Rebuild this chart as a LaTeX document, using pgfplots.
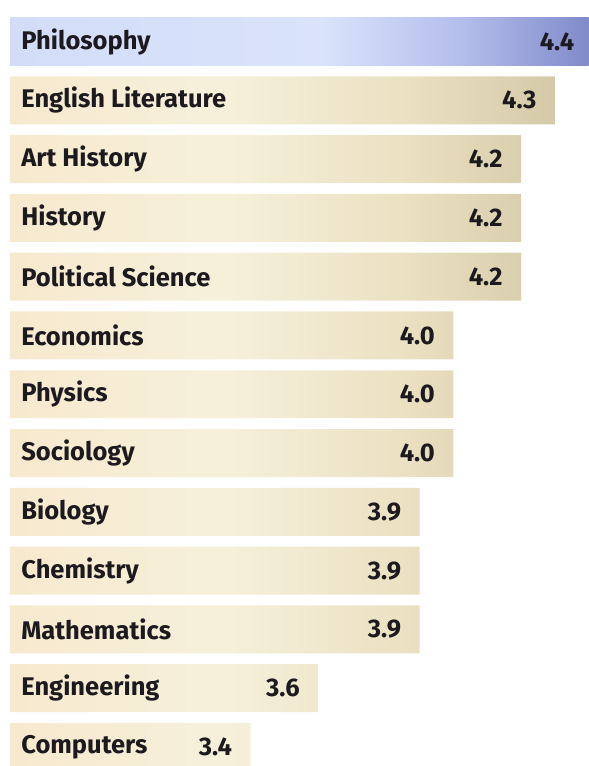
\documentclass[border=0pt]{standalone}
\usepackage{pgfplots}
\pgfplotsset{compat=1.18}
\usepackage{pgfplotstable}
\usepackage{fontspec}
\setmainfont{Fira Sans}
\definecolor{tanL}{RGB}{247,233,206}
\definecolor{tanM}{RGB}{246,240,219}
\definecolor{tanQ}{RGB}{234,224,193}
\definecolor{tanR}{RGB}{212,202,168}
\definecolor{bluL}{RGB}{212,221,248}
\definecolor{bluM}{RGB}{218,227,251}
\definecolor{bluQ}{RGB}{180,190,235}
\definecolor{bluR}{RGB}{128,138,202}
\definecolor{txt}{RGB}{28,26,30}
\pgfdeclarehorizontalshading{tanbar}{100bp}{color(0bp)=(tanL); color(25bp)=(tanL); color(45bp)=(tanM); color(62bp)=(tanQ); color(75bp)=(tanR); color(100bp)=(tanR)}
\pgfdeclarehorizontalshading{blubar}{100bp}{color(0bp)=(bluL); color(25bp)=(bluL); color(52bp)=(bluM); color(64bp)=(bluQ); color(75bp)=(bluR); color(100bp)=(bluR)}
\begin{document}
\pgfplotstableread[col sep=comma]{
name,v,y
Philosophy,4.4,12
}\top
\pgfplotstableread[col sep=comma]{
name,v,y
English Literature,4.3,11
Art History,4.2,10
History,4.2,9
Political Science,4.2,8
Economics,4.0,7
Physics,4.0,6
Sociology,4.0,5
Biology,3.9,4
Chemistry,3.9,3
Mathematics,3.9,2
Engineering,3.6,1
Computers,3.4,0
}\rest
\begin{tikzpicture}
\begin{axis}[
  width=589pt, height=766pt, scale only axis,
  xmin=-0.029, xmax=1.713, ymin=-0.323, ymax=12.706,
  axis line style={draw=none}, ticks=none,
  bar width=0.816, bar shift=0pt,
  /pgf/number format/assume math mode=true,
  every node near coord/.append style={font=\fontsize{25.5}{28}\selectfont\bfseries, text=txt},
]
\addplot[xbar, draw=none, shading=tanbar,
  nodes near coords={\pgfmathprintnumber[fixed,fixed zerofill,precision=1]{\pgfplotspointmeta}},
  every node near coord/.append style={anchor=east, xshift=-15pt},
  point meta=\thisrow{v}]
  table[x expr=\thisrow{v}-2.688, y=y] {\rest};
\addplot[xbar, draw=none, shading=blubar,
  nodes near coords={\pgfmathprintnumber[fixed,fixed zerofill,precision=1]{\pgfplotspointmeta}},
  every node near coord/.append style={anchor=east, xshift=-11pt},
  point meta=\thisrow{v}]
  table[x expr=\thisrow{v}-2.688, y=y] {\top};
\addplot[xbar, draw=none, fill=none, nodes near coords,
  point meta=explicit symbolic,
  every node near coord/.append style={anchor=west, xshift=8pt}]
  table[x expr=0, y=y, meta=name] {\rest};
\addplot[xbar, draw=none, fill=none, nodes near coords,
  point meta=explicit symbolic,
  every node near coord/.append style={anchor=west, xshift=8pt}]
  table[x expr=0, y=y, meta=name] {\top};
\end{axis}
\end{tikzpicture}
\end{document}
